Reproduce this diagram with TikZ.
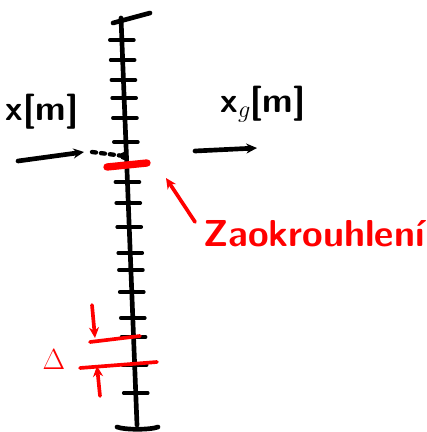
\documentclass[tikz,border=0pt]{standalone}
\usetikzlibrary{arrows.meta, positioning, calc}

\begin{document}
\begin{tikzpicture}[
    x=0.03cm, y=-0.03cm,
    pen/.style={line width=1.4mm, line cap=round, line join=round},
    tickmark/.style={pen, line width=1.1mm},
    redpen/.style={pen, red, line width=1.1mm},
    arr/.style={-{Stealth[length=3.2mm, width=3mm]}},
    hand/.style={font=\sffamily\bfseries\fontsize{30}{32}\selectfont, inner sep=0pt},
]
\useasboundingbox (0,0) rectangle (426,432);

% axis with caps
\coordinate (top) at (121,18);
\coordinate (bot) at (137,425);
\draw[pen] (top) -- (bot);
\draw[pen] (113,23) -- (150,13);
\draw[pen] (117,427) .. controls (125,430) and (150,430) .. (158,427);

% ticks
\foreach \y in {40,60,80,98,118,142,182,203,227,253,270,292,318,337,365,393}
  \draw[tickmark] ($(top)!{(\y-18)/407}!(bot)$) +(-12,0) -- +(12,0);

% rounding mark
\draw[redpen, line width=2.2mm] (107,167) -- (147,163);

% input value x
\node[hand] (xlab) at (42,112) {x[m]};
\coordinate (xin) at (18,161);
\coordinate (xend) at (84,152);
\coordinate (xpt) at (124,156);
\draw[pen, arr] (xin) -- (xend);
\draw[pen, line width=1.3mm, dash pattern=on 1.2mm off 1.5mm] (92,152) -- (xpt);
\fill (xpt) circle (4);

% output value x_g
\node[hand] (xglab) at (263,104) {x$_g$[m]};
\coordinate (xgin) at (195,151);
\coordinate (xgend) at (257,148);
\draw[pen, arr] (xgin) -- (xgend);

% rounding label
\node[hand, red, font=\sffamily\bfseries\fontsize{32}{34}\selectfont] (zlab) at (314,234) {Zaokrouhlení};
\coordinate (ztip) at (166,178);
\draw[redpen, arr] (zlab.west |- 0,222) ++(-8,0) -- (ztip);

% step Delta
\node[hand, red, font=\fontsize{32}{34}\selectfont] (dlab) at (54,360) {$\Delta$};
\coordinate (dup) at (95,338);
\coordinate (dlo) at (97,366);
\draw[redpen] (90,342) -- (140,336);
\draw[redpen] (80,368) -- (157,362);
\draw[redpen, arr] (92,305) -- (dup);
\draw[redpen, arr] (100,396) -- (dlo);

\end{tikzpicture}
\end{document}
